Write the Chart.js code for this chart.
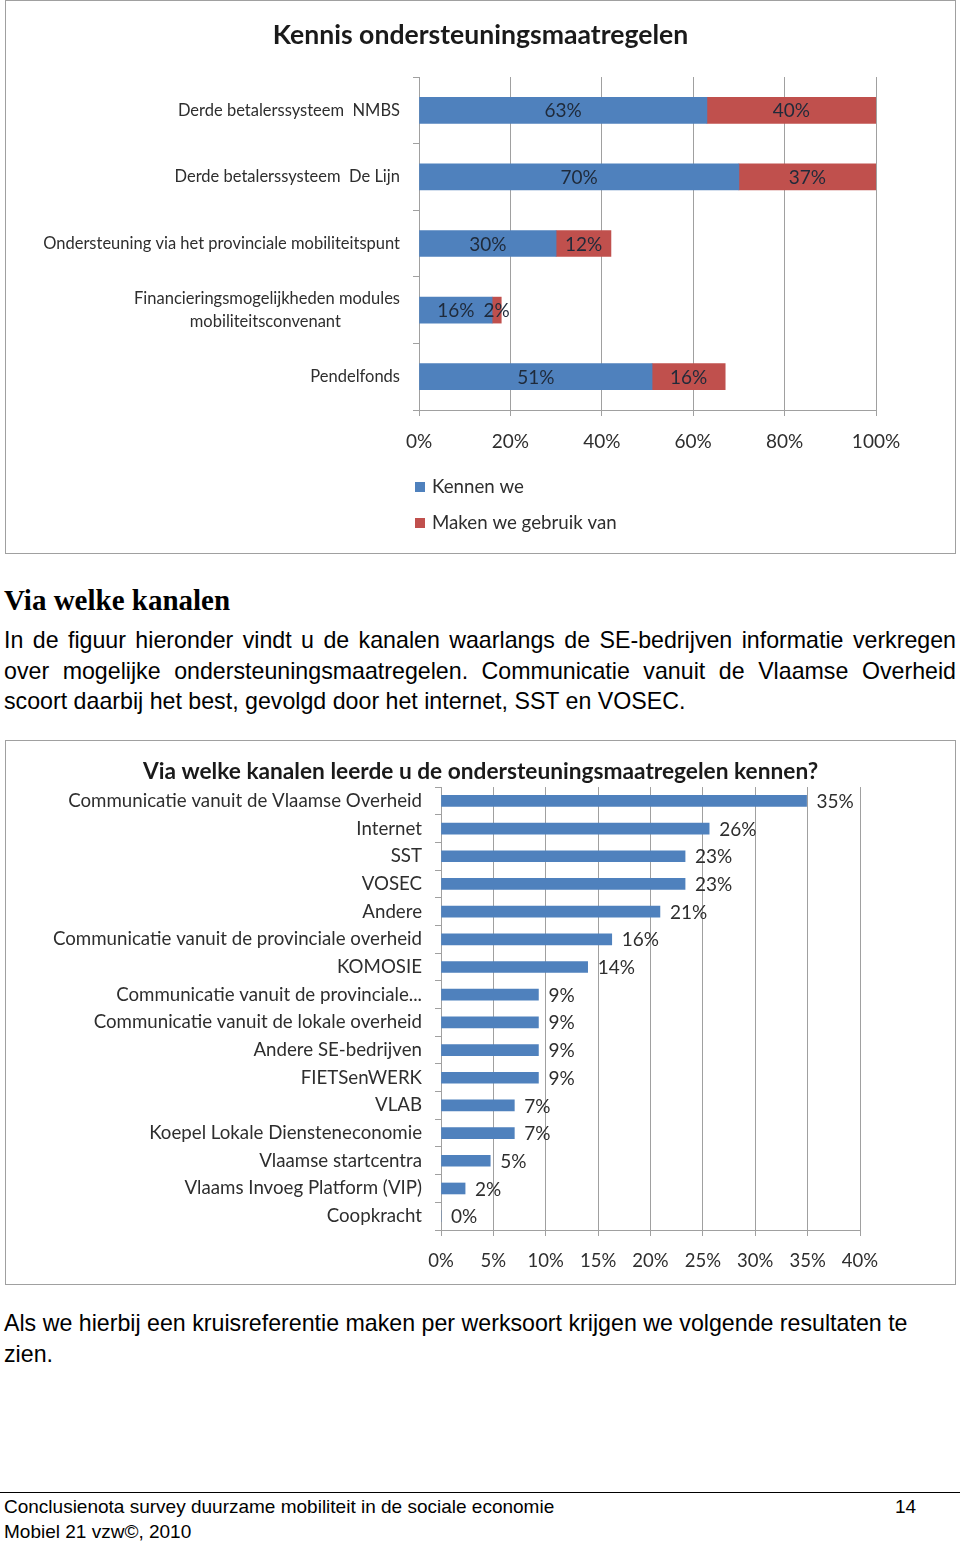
<!DOCTYPE html>
<html>
<head>
<meta charset="utf-8">
<script src="https://cdn.jsdelivr.net/npm/chart.js@4.4.1/dist/chart.umd.min.js"></script>
<style>
  html, body { margin:0; padding:0; background:#fff; }
  body { width:960px; height:1541px; position:relative; overflow:hidden; font-family:"Liberation Sans", Arial, sans-serif; color:#000; }
  .box { position:absolute; border:1px solid #a0a0a0; box-sizing:border-box; }
  canvas { position:absolute; }
  .h2 { position:absolute; left:4px; top:582px; font-family:"Liberation Serif", serif; font-weight:bold; font-size:29px; line-height:36px; margin:0; }
  .p { position:absolute; left:4px; width:952px; font-size:23.2px; line-height:30.5px; margin:0; }
  .just { text-align:justify; text-align-last:left; }
  .rule { position:absolute; left:0; top:1492px; width:960px; height:1px; background:#000; }
  .foot { position:absolute; font-size:19px; line-height:25px; margin:0; }
</style>
</head>
<body>
<div class="box" style="left:5px;top:0;width:951px;height:554px;"></div>
<canvas id="c1" width="951" height="553" style="left:5px;top:0;"></canvas>

<h2 class="h2">Via welke kanalen</h2>
<p class="p just" style="top:625px;">In de figuur hieronder vindt u de kanalen waarlangs de SE-bedrijven informatie verkregen over mogelijke ondersteuningsmaatregelen. Communicatie vanuit de Vlaamse Overheid scoort daarbij het best, gevolgd door het internet, SST en VOSEC.</p>

<div class="box" style="left:5px;top:740px;width:951px;height:545px;"></div>
<canvas id="c2" width="951" height="544" style="left:5px;top:740px;"></canvas>

<p class="p" style="top:1308px;">Als we hierbij een kruisreferentie maken per werksoort krijgen we volgende resultaten te zien.</p>

<div class="rule"></div>
<p class="foot" style="left:4px;top:1494px;">Conclusienota survey duurzame mobiliteit in de sociale economie</p>
<p class="foot" style="left:895px;top:1494px;">14</p>
<p class="foot" style="left:4px;top:1519px;">Mobiel 21 vzw©, 2010</p>

<script>
// ---------- Chart 1 data ----------
const kennisCategories = [
  'Derde betalerssysteem  NMBS',
  'Derde betalerssysteem  De Lijn',
  'Ondersteuning via het provinciale mobiliteitspunt',
  ['Financieringsmogelijkheden modules', 'mobiliteitsconvenant\u00A0\u00A0\u00A0\u00A0\u00A0\u00A0\u00A0\u00A0\u00A0\u00A0\u00A0\u00A0\u00A0\u00A0'],
  'Pendelfonds'
];
const kennenWe = [63, 70, 30, 16, 51];
const makenGebruik = [40, 37, 12, 2, 16];
const kennisSeriesNames = ['Kennen we', 'Maken we gebruik van'];
const kennisTicks = [0, 20, 40, 60, 80, 100];

// ---------- Chart 2 data ----------
const kanaalCategories = [
  'Communicatie vanuit de Vlaamse Overheid',
  'Internet',
  'SST',
  'VOSEC',
  'Andere',
  'Communicatie vanuit de provinciale overheid',
  'KOMOSIE',
  'Communicatie vanuit de provinciale...',
  'Communicatie vanuit de lokale overheid',
  'Andere SE-bedrijven',
  'FIETSenWERK',
  'VLAB',
  'Koepel Lokale Diensteneconomie',
  'Vlaamse startcentra',
  'Vlaams Invoeg Platform (VIP)',
  'Coopkracht'
];
const kanaalValues = [34.9, 25.6, 23.3, 23.3, 20.9, 16.3, 14.0, 9.3, 9.3, 9.3, 9.3, 7.0, 7.0, 4.7, 2.3, 0];
const kanaalTicks = [0, 5, 10, 15, 20, 25, 30, 35, 40];

const BLUE = '#4F81BD', RED = '#C0504D', GRID = '#a0a0a0', TXT = '#2e2e2e';
const FAM = 'Lato, "Noto Sans", sans-serif';
Chart.defaults.font.family = FAM;
Chart.defaults.color = TXT;

const barLabels = {
  id: 'barLabels',
  afterDatasetsDraw(chart, args, opts) {
    const { ctx, chartArea } = chart;
    ctx.save();
    ctx.font = opts.font;
    ctx.fillStyle = opts.color;
    ctx.textBaseline = 'middle';
    chart.data.datasets.forEach((ds, di) => {
      const meta = chart.getDatasetMeta(di);
      meta.data.forEach((bar, i) => {
        const p = bar.getProps(['x', 'y', 'base'], true);
        const txt = Math.round(ds.data[i]) + '%';
        if (opts.inside) {
          const l = Math.max(Math.min(p.x, p.base), chartArea.left);
          const r = Math.min(Math.max(p.x, p.base), chartArea.right);
          ctx.textAlign = 'center';
          ctx.fillText(txt, (l + r) / 2, p.y + 1);
        } else {
          ctx.textAlign = 'left';
          ctx.fillText(txt, p.x + opts.offset, p.y + 1);
        }
      });
    });
    ctx.restore();
  }
};

const columnLegend = {
  id: 'columnLegend',
  afterDraw(chart, args, opts) {
    const { ctx } = chart;
    ctx.save();
    ctx.font = opts.font;
    ctx.textBaseline = 'middle';
    ctx.textAlign = 'left';
    chart.data.datasets.forEach((ds, i) => {
      const y = opts.top + i * opts.gap;
      ctx.fillStyle = ds.backgroundColor;
      ctx.fillRect(opts.left, y - 5, 10, 10);
      ctx.fillStyle = opts.color;
      ctx.fillText(ds.label, opts.left + 17, y);
    });
    ctx.restore();
  }
};

function fixedTicks(values) {
  return function (scale) { scale.ticks = values.map(v => ({ value: v })); };
}

// invisible right-hand spacer axis, so the title stays centred on the whole box
function spacerAxis(width) {
  return {
    type: 'category', position: 'right', labels: [''],
    grid: { display: false }, border: { display: false }, ticks: { display: false },
    afterFit: s => { s.width = width; }
  };
}

// ---------- Chart 1 ----------
new Chart(document.getElementById('c1'), {
  type: 'bar',
  data: {
    labels: kennisCategories,
    datasets: [
      { label: kennisSeriesNames[0], data: kennenWe, backgroundColor: BLUE },
      { label: kennisSeriesNames[1], data: makenGebruik, backgroundColor: RED }
    ]
  },
  options: {
    indexAxis: 'y',
    responsive: false,
    animation: false,
    devicePixelRatio: 1,
    layout: { padding: { left: 0, right: 0, top: 0, bottom: 93 } },
    datasets: { bar: { barThickness: 26 } },
    scales: {
      x: {
        stacked: true, min: 0, max: 100,
        afterBuildTicks: fixedTicks(kennisTicks),
        afterFit: s => { s.height = 50; },
        grid: { color: GRID, tickLength: 6, drawOnChartArea: true },
        border: { color: GRID },
        ticks: { callback: v => v + '%', font: { size: 19 }, padding: 14, color: TXT }
      },
      y: {
        stacked: true,
        afterFit: s => { s.width = 414; },
        grid: { color: GRID, tickLength: 6, drawOnChartArea: false, offset: true },
        border: { color: GRID },
        ticks: { font: { size: 16.5, lineHeight: 1.35 }, padding: 13, color: TXT }
      },
      yRight: spacerAxis(80)
    },
    plugins: {
      legend: { display: false },
      tooltip: { enabled: false },
      title: {
        display: true,
        text: 'Kennis ondersteuningsmaatregelen',
        color: '#1a1a1a',
        font: { size: 26.6, weight: 'bold' },
        padding: { top: 19, bottom: 26.1 }
      },
      barLabels: { inside: true, font: '19px ' + FAM, color: '#1f2a3a' },
      columnLegend: { left: 410, top: 487, gap: 36, font: '18.7px ' + FAM, color: TXT }
    }
  },
  plugins: [barLabels, columnLegend]
});

// ---------- Chart 2 ----------
new Chart(document.getElementById('c2'), {
  type: 'bar',
  data: {
    labels: kanaalCategories,
    datasets: [
      { label: 'Via welke kanalen', data: kanaalValues, backgroundColor: BLUE }
    ]
  },
  options: {
    indexAxis: 'y',
    responsive: false,
    animation: false,
    devicePixelRatio: 1,
    layout: { padding: { left: 0, right: 0, top: 0, bottom: 14 } },
    datasets: { bar: { barThickness: 11 } },
    scales: {
      x: {
        min: 0, max: 40,
        afterBuildTicks: fixedTicks(kanaalTicks),
        afterFit: s => { s.height = 40; },
        grid: { color: GRID, tickLength: 6, drawOnChartArea: true },
        border: { color: GRID },
        ticks: { callback: v => v + '%', font: { size: 18.5 }, padding: 14, color: TXT }
      },
      y: {
        afterFit: s => { s.width = 436; },
        grid: { color: GRID, tickLength: 6, drawOnChartArea: false, offset: true },
        border: { color: GRID },
        ticks: { font: { size: 18.7 }, padding: 13, color: TXT, autoSkip: false }
      },
      yRight: spacerAxis(96)
    },
    plugins: {
      legend: { display: false },
      tooltip: { enabled: false },
      title: {
        display: true,
        text: 'Via welke kanalen leerde u de ondersteuningsmaatregelen kennen?',
        color: '#1a1a1a',
        font: { size: 22.7, weight: 'bold' },
        padding: { top: 18.4, bottom: 1.4 }
      },
      barLabels: { inside: false, offset: 10, font: '19px ' + FAM, color: TXT }
    }
  },
  plugins: [barLabels]
});
</script>
</body>
</html>
